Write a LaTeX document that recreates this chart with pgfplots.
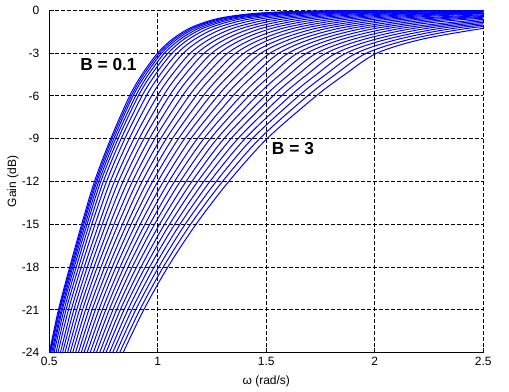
\documentclass[border=0pt]{standalone}
\usepackage{fontspec}
\setmainfont{Liberation Sans}
\usepackage{pgfplots}
\usepackage{pgfplotstable}
\pgfplotsset{compat=1.18}

% rows: gain level L (dB); columns: omega where curve k (B = 0.1, 0.2, ..., 3) reaches L
\pgfplotstableread{
L c0 c1 c2 c3 c4 c5 c6 c7 c8 c9 c10 c11 c12 c13 c14 c15 c16 c17 c18 c19 c20 c21 c22 c23 c24 c25 c26 c27 c28 c29
-24 0.500 0.503 0.506 0.511 0.516 0.522 0.531 0.540 0.551 0.561 0.572 0.584 0.596 0.608 0.621 0.634 0.647 0.660 0.674 0.688 0.703 0.717 0.732 0.747 0.761 0.777 0.792 0.808 0.824 0.840
-21 0.542 0.546 0.549 0.555 0.560 0.568 0.577 0.588 0.601 0.613 0.626 0.639 0.653 0.667 0.682 0.697 0.712 0.728 0.744 0.760 0.776 0.793 0.810 0.827 0.844 0.862 0.880 0.898 0.917 0.935
-18 0.594 0.598 0.603 0.608 0.615 0.624 0.635 0.647 0.661 0.675 0.690 0.706 0.721 0.738 0.755 0.772 0.790 0.807 0.826 0.844 0.863 0.882 0.902 0.922 0.942 0.962 0.983 1.004 1.025 1.046
-15 0.649 0.654 0.659 0.666 0.674 0.684 0.696 0.711 0.728 0.744 0.761 0.779 0.798 0.817 0.837 0.857 0.877 0.898 0.919 0.941 0.963 0.985 1.008 1.031 1.054 1.078 1.102 1.126 1.151 1.176
-12 0.708 0.714 0.720 0.728 0.737 0.749 0.764 0.781 0.800 0.819 0.840 0.861 0.883 0.905 0.928 0.952 0.976 1.000 1.026 1.051 1.077 1.103 1.130 1.157 1.184 1.212 1.240 1.269 1.298 1.327
-9 0.783 0.789 0.797 0.806 0.817 0.831 0.848 0.868 0.890 0.913 0.936 0.961 0.986 1.013 1.039 1.067 1.095 1.123 1.152 1.182 1.212 1.242 1.273 1.305 1.337 1.369 1.402 1.435 1.469 1.503
-6 0.870 0.878 0.886 0.898 0.910 0.927 0.947 0.971 0.998 1.025 1.053 1.082 1.113 1.144 1.176 1.209 1.242 1.276 1.311 1.346 1.383 1.419 1.456 1.494 1.531 1.570 1.610 1.649 1.690 1.730
-4.5 0.927 0.935 0.945 0.957 0.971 0.989 1.011 1.037 1.066 1.095 1.126 1.158 1.191 1.225 1.260 1.295 1.332 1.368 1.407 1.445 1.484 1.524 1.564 1.605 1.646 1.688 1.731 1.774 1.818 1.862
-3 0.999 1.008 1.018 1.031 1.047 1.066 1.090 1.118 1.150 1.181 1.214 1.249 1.284 1.322 1.359 1.397 1.437 1.476 1.518 1.559 1.602 1.644 1.687 1.732 1.776 1.822 1.868 1.915 1.962 2.010
-2 1.069 1.079 1.091 1.106 1.123 1.145 1.173 1.205 1.241 1.277 1.315 1.355 1.395 1.438 1.481 1.524 1.570 1.615 1.662 1.709 1.758 1.807 1.856 1.907 1.958 2.010 2.063 2.116 2.171 2.225
-1.2 1.154 1.166 1.180 1.198 1.218 1.244 1.277 1.316 1.358 1.401 1.446 1.493 1.541 1.591 1.642 1.694 1.748 1.801 1.857 1.914 1.971 2.029 2.088 2.148 2.208 2.270 2.333 2.396 2.461 2.525
-0.6 1.270 1.286 1.303 1.325 1.351 1.384 1.426 1.474 1.528 1.581 1.638 1.697 1.758 1.822 1.886 1.952 2.019 2.087 2.157 2.228 2.301 2.374 2.448 2.524 2.600 2.678 2.758 2.837 2.919 nan
-0.25 1.424 1.444 1.467 1.497 1.531 1.574 1.629 1.693 1.763 1.834 1.909 1.986 2.066 2.150 2.234 2.321 2.410 2.498 2.592 2.685 2.781 2.876 2.974 nan nan nan nan nan nan nan
-0.08 1.646 1.675 1.708 1.750 1.799 1.861 1.939 2.030 2.131 2.232 2.339 2.450 2.564 2.684 2.804 2.928 3.055 3.182 nan nan nan nan nan nan nan nan nan nan nan nan
-0.01 2.136 2.198 2.266 2.356 2.459 2.589 2.754 2.946 3.159 3.372 3.598 3.831 nan nan nan nan nan nan nan nan nan nan nan nan nan nan nan nan nan nan
-0.001 2.85 2.88 2.92 2.97 3.03 nan nan nan nan nan nan nan nan nan nan nan nan nan nan nan nan nan nan nan nan nan nan nan nan nan
}\curves

\begin{document}
\begin{tikzpicture}
\useasboundingbox (-36.98pt,-28.73pt) rectangle (344.78pt,264.53pt);
\begin{axis}[
  at={(0pt,0pt)}, anchor=south west,
  scale only axis, width=325.5pt, height=256.8pt,
  xmin=0.5, xmax=2.5, ymin=-24, ymax=0,
  axis x line*=bottom, axis y line*=left,
  axis line style={black, line width=0.75pt},
  xtick={0.5,1,1.5,2,2.5}, xticklabels={0.5,1,1.5,2,2.5},
  ytick={-24,-21,-18,-15,-12,-9,-6,-3,0},
  yticklabels={-24,-21,-18,-15,-12,-9,-6,-3,0},
  tick align=inside, major tick length=3.3pt,
  tick style={black, line width=0.75pt},
  grid=major,
  major grid style={black, line width=0.75pt, dash pattern=on 2.5pt off 2pt},
  tick label style={font=\fontsize{9}{10}\selectfont},
  xticklabel style={inner sep=0pt, yshift=-3pt, anchor=north},
  yticklabel style={inner sep=0pt, xshift=-7.3pt, anchor=east},
  xlabel={ω (rad/s)}, ylabel={Gain (dB)},
  label style={font=\fontsize{9}{10}\selectfont},
  xlabel style={at={(axis description cs:0.5,-0.0827)}, anchor=center},
  ylabel style={at={(axis description cs:-0.0836,0.5)}, anchor=center},
]
\pgfplotsinvokeforeach{0,...,29}{
  \addplot[blue, line width=0.75pt, mark=none, smooth] table[x=c#1, y=L] {\curves};
}
\node[anchor=west, inner sep=0pt, font=\fontsize{13}{15}\selectfont\bfseries] at (axis cs:0.6415,-3.82) {B = 0.1};
\node[anchor=west, inner sep=0pt, font=\fontsize{13}{15}\selectfont\bfseries] at (axis cs:1.525,-9.69) {B = 3};
\end{axis}
\end{tikzpicture}
\end{document}
